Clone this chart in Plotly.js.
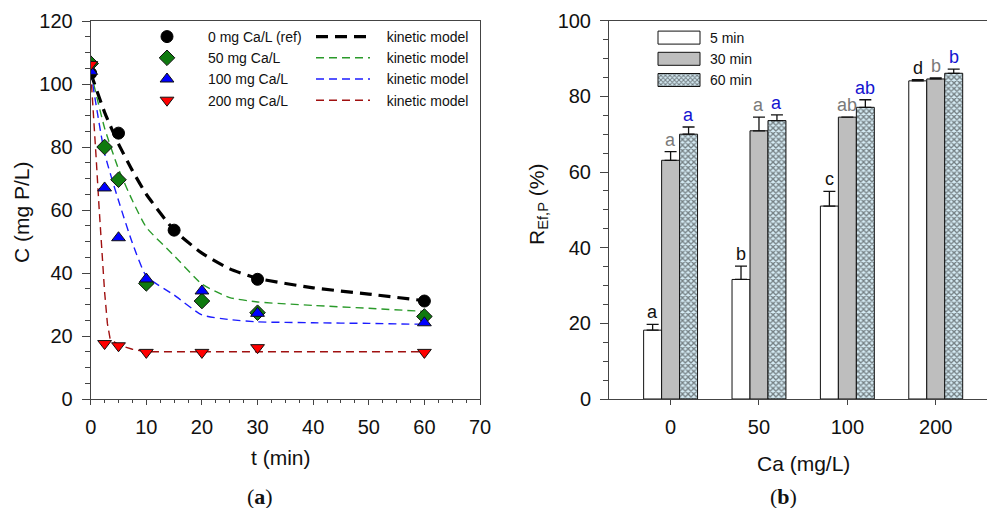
<!DOCTYPE html>
<html>
<head>
<meta charset="utf-8">
<script src="https://cdn.plot.ly/plotly-3.0.1.min.js"></script>
<style>
  html, body { margin: 0; padding: 0; background: #fff; }
  #chart { width: 987px; height: 508px; }
</style>
</head>
<body>
<div id="chart"></div>
<script>
// ---- Panel (a): phosphate concentration vs time ----
const tRef = [0, 5, 15, 30, 60];
const cRef = [103.4, 84.4, 53.6, 38.0, 31.1];

const tCa = [0, 2.5, 5, 10, 20, 30, 60];
const c50 = [106.5, 80.0, 69.6, 36.7, 31.1, 27.4, 26.2];
const c100 = [104.0, 67.0, 51.2, 38.1, 34.3, 27.2, 24.2];
const c200 = [106.2, 17.6, 16.9, 14.8, 14.8, 16.3, 14.8];

// kinetic model curves
const tModel = [0, 2.5, 5, 7.5, 10, 15, 20, 25, 30, 40, 50, 60];
const modelRef = [103.5, 91, 81, 72.5, 65, 53.6, 46.3, 41.3, 38.3, 35.3, 33.3, 31.2];
const model50 = [104, 86, 73, 63, 54.5, 45.5, 36.5, 32.2, 30.8, 29.7, 28.8, 27.8];
const model100 = [104, 78, 63, 49.5, 39, 33, 26.7, 25.2, 24.5, 24.2, 24.0, 23.7];
const tModel200 = [0, 0.5, 1, 1.5, 2, 2.5, 3, 3.5, 5, 7.5, 10, 20, 30, 60];
const model200 = [104, 91, 76, 61, 47, 34, 24, 19, 17.2, 15.8, 15, 15, 15, 15];

const seriesNames = ['0 mg Ca/L (ref)', '50 mg Ca/L', '100 mg Ca/L', '200 mg Ca/L'];
const modelName = '\u00a0\u00a0\u00a0kinetic model';

// ---- Panel (b): P removal efficiency by Ca dose ----
const caDose = ['0', '50', '100', '200'];
const rem5 = [18.2, 31.6, 51.0, 84.1];
const err5 = [1.5, 3.5, 3.9, 0.3];
const rem30 = [63.1, 70.9, 74.5, 84.6];
const err30 = [2.3, 3.6, 0.0, 0.3];
const rem60 = [70.0, 73.6, 77.1, 86.1];
const err60 = [1.9, 1.5, 2.0, 1.1];
const letters5 = ['a', 'b', 'c', 'd'];
const letters30 = ['a', 'a', 'ab', 'b'];
const letters60 = ['a', 'a', 'ab', 'b'];
const barNames = ['5 min', '30 min', '60 min'];

const FONT = 'Liberation Sans, Arial, sans-serif';
const SERIF = 'Liberation Serif, Times New Roman, serif';
const W = 987, H = 508;
const px = v => v / W;
const py = v => 1 - v / H;

const dashThin = '8px,5px';
const traces = [
  // model lines (under markers)
  {x: tModel, y: modelRef, mode: 'lines', name: modelName, legend: 'legend2',
   line: {color: '#000', width: 3.2, dash: '12px,7px', shape: 'spline', smoothing: 0.5}},
  {x: tModel, y: model50, mode: 'lines', name: modelName, legend: 'legend2',
   line: {color: '#2a9a2a', width: 1.4, dash: dashThin, shape: 'spline', smoothing: 0.5}},
  {x: tModel, y: model100, mode: 'lines', name: modelName, legend: 'legend2',
   line: {color: '#1c1cff', width: 1.4, dash: dashThin, shape: 'spline', smoothing: 0.5}},
  {x: tModel200, y: model200, mode: 'lines', name: modelName, legend: 'legend2',
   line: {color: '#a01010', width: 1.4, dash: dashThin}},
  // measured points
  {x: tRef, y: cRef, mode: 'markers', name: seriesNames[0], legend: 'legend',
   marker: {symbol: 'circle', size: 12, color: '#000', line: {color: '#000', width: 1}}},
  {x: tCa, y: c50, mode: 'markers', name: seriesNames[1], legend: 'legend',
   marker: {symbol: 'diamond', size: 12, color: '#0f7a0f', line: {color: '#111', width: 1}}},
  {x: tCa, y: c100, mode: 'markers', name: seriesNames[2], legend: 'legend',
   marker: {symbol: 'triangle-up', size: 12, color: '#0000ff', line: {color: '#111', width: 1}}},
  {x: tCa, y: c200, mode: 'markers', name: seriesNames[3], legend: 'legend',
   marker: {symbol: 'triangle-down', size: 12, color: '#ff0000', line: {color: '#111', width: 1}}},
  // bars
  {type: 'bar', x: caDose, y: rem5, name: barNames[0], xaxis: 'x2', yaxis: 'y2', legend: 'legend3',
   marker: {color: '#ffffff', line: {color: '#111', width: 1}},
   error_y: {type: 'data', symmetric: false, array: err5, arrayminus: [0, 0, 0, 0], color: '#111', thickness: 1.3, width: 6}},
  {type: 'bar', x: caDose, y: rem30, name: barNames[1], xaxis: 'x2', yaxis: 'y2', legend: 'legend3',
   marker: {color: '#bebebe', line: {color: '#111', width: 1}},
   error_y: {type: 'data', symmetric: false, array: err30, arrayminus: [0, 0, 0, 0], color: '#111', thickness: 1.3, width: 6}},
  {type: 'bar', x: caDose, y: rem60, name: barNames[2], xaxis: 'x2', yaxis: 'y2', legend: 'legend3',
   marker: {color: '#d6ecf5', line: {color: '#111', width: 1},
            pattern: {shape: 'x', fgcolor: '#111', bgcolor: '#d6ecf5', size: 4, solidity: 0.55, fillmode: 'overlay'}},
   error_y: {type: 'data', symmetric: false, array: err60, arrayminus: [0, 0, 0, 0], color: '#111', thickness: 1.3, width: 6}}
];

// significance letters above each bar (x given as category index)
const annotations = [];
const letterSets = [[letters5, rem5, err5, -18, '#111'], [letters30, rem30, err30, 0, '#7a7a7a'], [letters60, rem60, err60, 18, '#1414d0']];
letterSets.forEach(([labels, vals, errs, shift, color]) => {
  labels.forEach((t, i) => {
    annotations.push({xref: 'x2', yref: 'y2', x: i, y: vals[i] + errs[i], text: t,
      showarrow: false, xshift: shift, yanchor: 'bottom', yshift: 0,
      font: {family: FONT, size: 18, color: color}});
  });
});

// axis titles and panel labels
const label = (x, y, text, extra) => Object.assign({
  xref: 'paper', yref: 'paper', x: px(x), y: py(y), text: text, showarrow: false,
  xanchor: 'center', yanchor: 'middle', font: {family: FONT, size: 21, color: '#111'}
}, extra || {});
annotations.push(
  label(281, 457, 't (min)'),
  label(22, 212, 'C (mg P/L)', {textangle: -90}),
  label(803, 463, 'Ca (mg/L)'),
  label(538, 205, 'R<sub>Ef,P</sub> (%)', {textangle: -90}),
  label(260, 496, '(<b>a</b>)', {font: {family: SERIF, size: 22, color: '#111'}}),
  label(783, 496, '(<b>b</b>)', {font: {family: SERIF, size: 22, color: '#111'}})
);

const axisCommon = {
  showgrid: false, zeroline: false, showline: true, linecolor: '#444', linewidth: 1,
  ticks: 'outside', tickcolor: '#444', tickwidth: 1,
  tickfont: {family: FONT, size: 20, color: '#111'}
};

const legendFont = {family: FONT, size: 14, color: '#111'};

const layout = {
  width: W, height: H,
  margin: {l: 0, r: 0, t: 0, b: 0},
  paper_bgcolor: '#fff', plot_bgcolor: '#fff',
  font: {family: FONT},
  barmode: 'group', bargap: 0.39, bargroupgap: 0,
  xaxis: Object.assign({}, axisCommon, {
    domain: [px(90.7), px(480)], range: [0, 70], tick0: 0, dtick: 10, ticklen: 5,
    ticklabelstandoff: 5,
    minor: {dtick: 2.5, ticks: 'outside', ticklen: 3, tickcolor: '#444'},
    mirror: true, anchor: 'y'
  }),
  yaxis: Object.assign({}, axisCommon, {
    domain: [1 - 399 / H, 1 - 21 / H], range: [0, 120], tick0: 0, dtick: 20, ticklen: 8,
    ticklabelstandoff: 5,
    minor: {dtick: 5, ticks: 'outside', ticklen: 5, tickcolor: '#444'},
    mirror: true, anchor: 'x'
  }),
  xaxis2: Object.assign({}, axisCommon, {
    domain: [px(609), 1], type: 'category', categoryorder: 'array', categoryarray: caDose,
    range: [-0.697, 3.58], ticklen: 5, ticklabelstandoff: 5, mirror: true, anchor: 'y2'
  }),
  yaxis2: Object.assign({}, axisCommon, {
    domain: [1 - 399 / H, 1 - 20.7 / H], range: [0, 100], tick0: 0, dtick: 20, ticklen: 8,
    ticklabelstandoff: 5,
    minor: {dtick: 5, ticks: 'outside', ticklen: 5, tickcolor: '#444'},
    mirror: false, anchor: 'x2'
  }),
  legend: {x: px(126), y: py(21), xanchor: 'left', yanchor: 'top', bgcolor: 'rgba(0,0,0,0)',
           font: legendFont, itemwidth: 72, tracegroupgap: 0},
  legend2: {x: px(311), y: py(21), xanchor: 'left', yanchor: 'top', bgcolor: 'rgba(0,0,0,0)',
            font: legendFont, itemwidth: 54, tracegroupgap: 0},
  legend3: {x: px(648), y: py(22), xanchor: 'left', yanchor: 'top', bgcolor: 'rgba(0,0,0,0)',
            font: legendFont, itemwidth: 52, tracegroupgap: 0},
  annotations: annotations
};

Plotly.newPlot('chart', traces, layout, {staticPlot: true, displayModeBar: false}).then(gd => {
  // widen the bar legend swatches into flat rectangles
  gd.querySelectorAll('.legend3 .legendpoints path').forEach(p => {
    p.setAttribute('d', 'M21,6.5H-21V-6.5H21Z');
  });
});
</script>
</body>
</html>
